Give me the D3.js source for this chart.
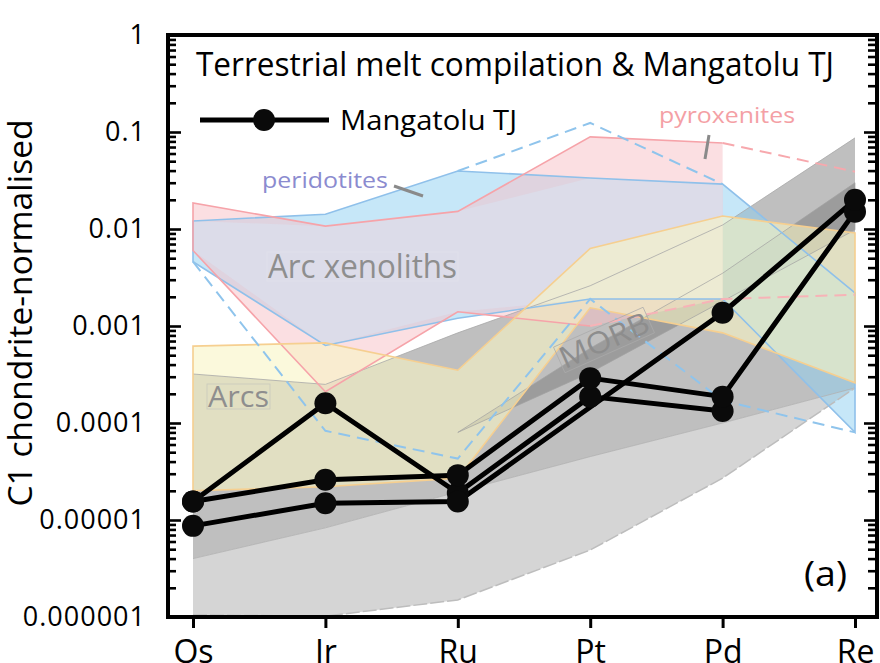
<!DOCTYPE html>
<html>
<head>
<meta charset="utf-8">
<script src="https://cdn.jsdelivr.net/npm/d3@7"></script>
<style>
  body { margin: 0; background: #fff; }
  svg { display: block; font-family: "Open Sans", "DejaVu Sans", sans-serif; }
</style>
</head>
<body>
<div id="chart"></div>
<script>
// categories and tick labels
var elements = ["Os", "Ir", "Ru", "Pt", "Pd", "Re"];
var y_tick_values = [1e-6, 1e-5, 1e-4, 1e-3, 1e-2, 1e-1, 1];
var y_tick_labels = ["0.000001", "0.00001", "0.0001", "0.001", "0.01", "0.1", "1"];

// Mangatolu TJ samples (null = not plotted)
var mangatolu_1 = [1.55e-5, 1.6e-4, 1.9e-5, 1.87e-4, 1.33e-4, null];
var mangatolu_2 = [1.55e-5, 2.6e-5, 2.9e-5, 2.9e-4, 1.87e-4, 0.0151];
var mangatolu_3 = [8.7e-6, 1.49e-5, 1.55e-5, null, 1.37e-3, 0.02];

// compilation fields, upper / lower envelopes
var grey_low_top = [4e-6, 8.3e-6, 1.95e-5, 4.5e-5, 1e-4, 2.3e-4];
var grey_low_bottom = [1.05e-6, 1.02e-6, 1.5e-6, 4.9e-6, 2.7e-5, 2.3e-4];
var morb_top = [3.2e-4, 2.5e-4, 8.5e-4, 2.6e-3, 0.011, 0.087];
var morb_strip_top = [null, null, 8e-5, 5.9e-4, 0.0035, 0.03];
var morb_strip_bottom = [null, null, 8e-5, 3.3e-4, 0.0018, 0.0098];

var peridotite_top = [0.0121, 0.0142, 0.0396, 0.0336, 0.029, 0.0022];
var peridotite_bottom = [0.0046, 6.3e-4, 0.0012, 0.0019, 0.0019, 8e-5];
var peridotite_max_dash = [null, null, 0.0396, 0.124, 0.029, null];
var peridotite_min_dash = [0.0046, 8.3e-5, 4.3e-5, 0.0019, 1.7e-4, 8e-5];

var pyroxenite_top = [0.0186, 0.0107, 0.0152, 0.089, 0.077, null];
var pyroxenite_bottom = [0.006, 2.1e-4, 0.0014, 0.001, 0.0019, null];
var pyroxenite_top_dash = [null, null, null, null, 0.077, 0.039];
var pyroxenite_bottom_dash = [null, null, null, 0.001, 0.0019, 0.0021];

var xenolith_top = [0.0121, 0.0107, 0.0152, 0.0336, 0.029, null];
var xenolith_bottom = [0.006, 6.3e-4, 0.0014, 0.0019, 0.0019, null];

var arc_top = [6.2e-4, 6.7e-4, 3.5e-4, 0.0063, 0.0136, 0.0091];
var arc_bottom = [2.0e-5, 2.2e-5, 2.7e-5, 0.00154, 8.5e-4, 2.6e-4];

var width = 880,
  height = 663;
var margins = { top: 35, right: 3, bottom: 46, left: 168 };

var svg = d3
  .select("#chart")
  .append("svg")
  .attr("width", width)
  .attr("height", height);

var x = d3.scalePoint().domain(elements).range([193, 855]);
var y = d3
  .scaleLog()
  .domain([1e-6, 1])
  .range([height - margins.bottom, margins.top]);

function band(top, bottom) {
  return elements.map((c, i) => ({ cat: c, hi: top[i], lo: bottom[i] }));
}
function pts(vals) {
  return elements.map((c, i) => ({ cat: c, v: vals[i] }));
}

var area = d3
  .area()
  .defined((d) => d.hi != null && d.lo != null)
  .x((d) => x(d.cat))
  .y0((d) => y(d.lo))
  .y1((d) => y(d.hi));

var line = d3
  .line()
  .defined((d) => d.v != null)
  .x((d) => x(d.cat))
  .y((d) => y(d.v));

// outline of a band: top left->right, then bottom right->left, closed
function outline(top, bottom) {
  var b = band(top, bottom).filter((d) => d.hi != null && d.lo != null);
  var p = b.map((d) => [x(d.cat), y(d.hi)]).concat(
    b.slice().reverse().map((d) => [x(d.cat), y(d.lo)])
  );
  return "M" + p.join("L") + "Z";
}

// Grey fields
svg.append("path")
  .attr("d", area(band(grey_low_top, grey_low_bottom)))
  .attr("fill", "#d5d5d5");
svg.append("path")
  .attr("d", area(band(morb_top, grey_low_top)))
  .attr("fill", "#bfbfbf");
svg.append("path")
  .attr("d", area(band(morb_strip_top, morb_strip_bottom)))
  .attr("fill", "rgba(0,0,0,0.18)");

// Peridotites, pyroxenites and their overlap (arc xenoliths)
svg.append("path")
  .attr("d", area(band(peridotite_top, peridotite_bottom)))
  .attr("fill", "rgba(141,207,241,0.5)");
svg.append("path")
  .attr("d", area(band(pyroxenite_top, pyroxenite_bottom)))
  .attr("fill", "rgba(247,191,197,0.5)");
svg.append("path")
  .attr("d", area(band(xenolith_top, xenolith_bottom)))
  .attr("fill", "#dcdce9");

// Arcs field
svg.append("path")
  .attr("d", area(band(arc_top, arc_bottom)))
  .attr("fill", "rgba(248,245,196,0.6)");

// field edges
svg.append("path")
  .attr("d", line(pts(morb_top)))
  .attr("fill", "none")
  .attr("stroke", "#a8a8a8")
  .attr("stroke-width", 0.8);
svg.append("path")
  .attr("d", line(pts(grey_low_top)))
  .attr("fill", "none")
  .attr("stroke", "#b0b0b0")
  .attr("stroke-width", 0.8);
svg.append("path")
  .attr("d", line(pts(grey_low_bottom)))
  .attr("fill", "none")
  .attr("stroke", "#bdbdbd")
  .attr("stroke-width", 1.5)
  .attr("stroke-dasharray", "14,3");
svg.append("path")
  .attr("d", outline(morb_strip_top, morb_strip_bottom))
  .attr("fill", "none")
  .attr("stroke", "#a0a0a0")
  .attr("stroke-width", 0.7);

svg.append("path")
  .attr("d", outline(peridotite_top, peridotite_bottom))
  .attr("fill", "none")
  .attr("stroke", "#8fc0ea")
  .attr("stroke-width", 1.6);

// pyroxenite edge: top, Os side, bottom up to Pt (Pt-Pd is dashed)
var pyx_open = [[x("Pd"), y(pyroxenite_top[4])]];
for (var i = 3; i >= 0; i--) pyx_open.push([x(elements[i]), y(pyroxenite_top[i])]);
for (var j = 0; j <= 3; j++) pyx_open.push([x(elements[j]), y(pyroxenite_bottom[j])]);
svg.append("path")
  .attr("d", "M" + pyx_open.join("L"))
  .attr("fill", "none")
  .attr("stroke", "#f6a3a9")
  .attr("stroke-width", 1.6);

svg.append("path")
  .attr("d", outline(arc_top, arc_bottom))
  .attr("fill", "none")
  .attr("stroke", "#f6cf90")
  .attr("stroke-width", 1.6);

// dashed extremes
var dashes = [
  { vals: peridotite_max_dash, color: "#8fc4ec" },
  { vals: peridotite_min_dash, color: "#8fc4ec" },
  { vals: pyroxenite_top_dash, color: "#f7a8ad" },
  { vals: pyroxenite_bottom_dash, color: "#f7b3b7" },
];
svg.selectAll(".dash")
  .data(dashes)
  .enter()
  .append("path")
  .attr("class", "dash")
  .attr("d", (d) => line(pts(d.vals)))
  .attr("fill", "none")
  .attr("stroke", (d) => d.color)
  .attr("stroke-width", 2)
  .attr("stroke-dasharray", "12,7");

// field labels
svg.append("rect")
  .attr("x", 267).attr("y", 252).attr("width", 191).attr("height", 29)
  .attr("fill", "none").attr("stroke", "#e2e2ea").attr("stroke-width", 0.8);
svg.append("text")
  .attr("x", 268).attr("y", 278)
  .attr("font-size", "32px").attr("fill", "#8e8e8e")
  .attr("textLength", 189).attr("lengthAdjust", "spacingAndGlyphs")
  .text("Arc xenoliths");

svg.append("rect")
  .attr("x", 207).attr("y", 384).attr("width", 63).attr("height", 25)
  .attr("fill", "none").attr("stroke", "#c9c9bd").attr("stroke-width", 0.8);
svg.append("text")
  .attr("x", 208).attr("y", 407)
  .attr("font-size", "30px").attr("fill", "#8e8e8e")
  .attr("textLength", 61).attr("lengthAdjust", "spacingAndGlyphs")
  .text("Arcs");

var morb_label = svg.append("g")
  .attr("transform", "translate(604,340) rotate(-24)");
morb_label.append("rect")
  .attr("x", -49).attr("y", -14).attr("width", 98).attr("height", 28)
  .attr("fill", "none").attr("stroke", "#ababab").attr("stroke-width", 0.7);
morb_label.append("text")
  .attr("text-anchor", "middle")
  .attr("dy", "0.36em")
  .attr("font-size", "30px").attr("fill", "#8d8d8d")
  .attr("textLength", 95).attr("lengthAdjust", "spacingAndGlyphs")
  .text("MORB");

svg.append("text")
  .attr("x", 262).attr("y", 188)
  .attr("font-size", "22px").attr("fill", "#8b8bcf")
  .attr("textLength", 126).attr("lengthAdjust", "spacingAndGlyphs")
  .text("peridotites");
svg.append("line")
  .attr("x1", 394).attr("y1", 186).attr("x2", 423).attr("y2", 196)
  .attr("stroke", "#8a8a8a").attr("stroke-width", 3);

svg.append("text")
  .attr("x", 659).attr("y", 123)
  .attr("font-size", "22px").attr("fill", "#f4a0a5")
  .attr("textLength", 136).attr("lengthAdjust", "spacingAndGlyphs")
  .text("pyroxenites");
svg.append("line")
  .attr("x1", 709).attr("y1", 135).attr("x2", 705).attr("y2", 159)
  .attr("stroke", "#8a8a8a").attr("stroke-width", 3);

// Mangatolu TJ
var samples = [mangatolu_1, mangatolu_2, mangatolu_3];
var joined = d3
  .line()
  .x((d) => x(d.cat))
  .y((d) => y(d.v));

svg.selectAll(".sample")
  .data(samples)
  .enter()
  .append("path")
  .attr("class", "sample")
  .attr("d", (d) => joined(pts(d).filter((p) => p.v != null)))
  .attr("fill", "none")
  .attr("stroke", "#000")
  .attr("stroke-width", 5)
  .attr("stroke-linejoin", "round");

svg.selectAll(".pt")
  .data(samples.flatMap((s) => pts(s).filter((p) => p.v != null)))
  .enter()
  .append("circle")
  .attr("class", "pt")
  .attr("cx", (d) => x(d.cat))
  .attr("cy", (d) => y(d.v))
  .attr("r", 11)
  .attr("fill", "#0a0a0a");

// Axes
var minor_ticks = y.ticks().filter((v) => y_tick_values.indexOf(v) < 0);

var left_major = svg.append("g")
  .attr("transform", "translate(168,0)")
  .call(
    d3.axisLeft(y)
      .tickValues(y_tick_values)
      .tickSizeInner(-13)
      .tickSizeOuter(0)
      .tickPadding(22)
      .tickFormat((d, i) => y_tick_labels[i])
  );
left_major.selectAll("text")
  .attr("font-size", "27px")
  .attr("font-family", "Open Sans")
  .attr("fill", "#000")
  .attr("letter-spacing", "1px")
  .attr("dy", "0.3em");

var left_minor = svg.append("g")
  .attr("transform", "translate(168,0)")
  .call(d3.axisRight(y).tickValues(minor_ticks).tickSize(8).tickFormat(""));

var right_major = svg.append("g")
  .attr("transform", "translate(877,0)")
  .call(d3.axisRight(y).tickValues(y_tick_values).tickSize(-13).tickFormat(""));
var right_minor = svg.append("g")
  .attr("transform", "translate(877,0)")
  .call(d3.axisRight(y).tickValues(minor_ticks).tickSize(-9).tickFormat(""));

[left_major, left_minor, right_major, right_minor].forEach((g) => {
  g.select(".domain").remove();
  g.selectAll("line").attr("stroke", "#000").attr("stroke-width", 2.6);
});

var x_axis = svg.append("g")
  .attr("transform", "translate(0," + y(1e-6) + ")")
  .call(d3.axisBottom(x).tickSizeInner(11).tickSizeOuter(0).tickPadding(12));
x_axis.select(".domain").remove();
x_axis.selectAll("line").attr("stroke", "#000").attr("stroke-width", 3);
x_axis.selectAll("text")
  .attr("font-size", "32px")
  .attr("font-family", "Open Sans")
  .attr("fill", "#000");

// frame
svg.append("rect")
  .attr("x", 168)
  .attr("y", y(1))
  .attr("width", 877 - 168)
  .attr("height", y(1e-6) - y(1))
  .attr("fill", "none")
  .attr("stroke", "#000")
  .attr("stroke-width", 4);

// y title
svg.append("text")
  .attr("transform", "translate(32,313) rotate(-90)")
  .attr("text-anchor", "middle")
  .attr("font-size", "33px")
  .attr("textLength", 387)
  .attr("lengthAdjust", "spacingAndGlyphs")
  .text("C1 chondrite-normalised");

// title and legend
svg.append("text")
  .attr("x", 196)
  .attr("y", 76)
  .attr("font-size", "32px")
  .attr("textLength", 638)
  .attr("lengthAdjust", "spacingAndGlyphs")
  .text("Terrestrial melt compilation & Mangatolu TJ");

svg.append("line")
  .attr("x1", 200).attr("x2", 329).attr("y1", 120).attr("y2", 120)
  .attr("stroke", "#000").attr("stroke-width", 5);
svg.append("circle")
  .attr("cx", 264).attr("cy", 120).attr("r", 11).attr("fill", "#0a0a0a");
svg.append("text")
  .attr("x", 340)
  .attr("y", 130)
  .attr("font-size", "28px")
  .attr("textLength", 177)
  .attr("lengthAdjust", "spacingAndGlyphs")
  .text("Mangatolu TJ");

svg.append("text")
  .attr("x", 804)
  .attr("y", 586)
  .attr("font-size", "34px")
  .attr("textLength", 43)
  .attr("lengthAdjust", "spacingAndGlyphs")
  .text("(a)");
</script>
</body>
</html>
